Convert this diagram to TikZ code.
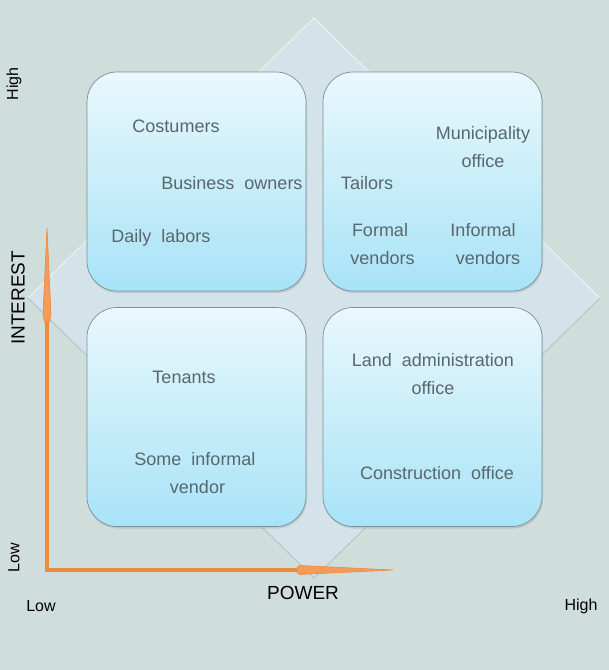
\documentclass[tikz,border=0pt]{standalone}
\usepackage{fontspec}
\setmainfont{Liberation Sans}
\usetikzlibrary{shadows}
\definecolor{bgc}{HTML}{CFDEDA}
\definecolor{diamc}{HTML}{D4E3E9}
\definecolor{boxtop}{HTML}{E9F8FC}
\definecolor{boxbot}{HTML}{A8E3F7}
\definecolor{boxedge}{HTML}{7C8E96}
\definecolor{txtc}{HTML}{5A666E}
\definecolor{orng}{HTML}{EC8A40}
\definecolor{orngl}{HTML}{F39C5A}
\tikzset{
  quad/.style={draw=boxedge, line width=0.7pt, rounded corners=30pt,
    minimum width=219pt, minimum height=219pt, top color=boxtop, bottom color=boxbot,
    drop shadow={opacity=0.25, shadow xshift=1pt, shadow yshift=-2pt}},
  lbl/.style={text=txtc, font=\fontsize{18}{21}\selectfont, align=center, inner sep=0pt},
  axlbl/.style={text=black, font=\fontsize{19}{22}\selectfont, inner sep=0pt},
  endlbl/.style={text=black, font=\fontsize{16}{19}\selectfont, inner sep=0pt},
  axshaft/.style={draw=orng, line width=4.5pt},
  axhead/.style={fill=orngl, draw=orng, line width=0.6pt},
}
\begin{document}
\begin{tikzpicture}[x=1pt,y=-1pt]
\fill[bgc] (0,0) rectangle (609,670);
\useasboundingbox (0,0) rectangle (609,670);
% diamond
\fill[diamc] (314,18) -- (600,298) -- (314,578) -- (28,298) -- cycle;
\draw[white, opacity=0.7, line width=0.8pt] (28,298) -- (314,18) -- (600,298);
\draw[gray!70, opacity=0.6, line width=0.8pt] (28,298) -- (314,578) -- (600,298);
% quadrants
\node[quad] (tl) at (196.5,181.5) {};
\node[quad] (tr) at (432.5,181.5) {};
\node[quad] (bl) at (196.5,417) {};
\node[quad] (br) at (432.5,417) {};
% labels in boxes
\node[lbl] (cost) at (176,126) {Costumers};
\node[lbl] (bus) at (232,183) {Business\ \ owners};
\node[lbl] (daily) at (161,238) {Daily\ \ labors};
\node[lbl] (muni) at (483,147) {Municipality\\[7pt]office};
\node[lbl] (tail) at (367,183) {Tailors};
\node[lbl] (formal) at (380,244) {Formal\\[7pt]\ vendors};
\node[lbl] (informal) at (483,244) {Informal\\[7pt]\ \ vendors};
\node[lbl] (ten) at (184,377) {Tenants};
\node[lbl] (some) at (195,473) {Some\ \ informal\\[7pt]\ vendor};
\node[lbl] (land) at (433,374) {Land\ \ administration\\[7pt]office};
\node[lbl] (cons) at (437,473) {Construction\ \ office};
% axes
\coordinate (O) at (47,572);
\coordinate (Ybase) at (47,318);
\coordinate (Ytip) at (47,228);
\coordinate (Xbase) at (300,570);
\coordinate (Xtip) at (393,570);
\draw[axshaft] (O) -- (Ybase);
\draw[axshaft] (44.75,570) -- (Xbase);
\filldraw[axhead] (Ytip) -- (51,314) -- (49.5,322) -- (44.5,322) -- (43,314) -- cycle;
\filldraw[axhead] (Xtip) -- (300,574.5) -- (297,572.5) -- (297,567.5) -- (300,565.5) -- cycle;
% axis labels
\node[endlbl, rotate=90] (yhigh) at (14,84) {High};
\node[axlbl, rotate=90] (yint) at (18,298) {INTEREST};
\node[endlbl, rotate=90] (ylow) at (14,558) {Low};
\node[endlbl] (xlow) at (41,606) {Low};
\node[axlbl] (xpow) at (303,593) {POWER};
\node[endlbl] (xhigh) at (581,606) {High};
\end{tikzpicture}
\end{document}
